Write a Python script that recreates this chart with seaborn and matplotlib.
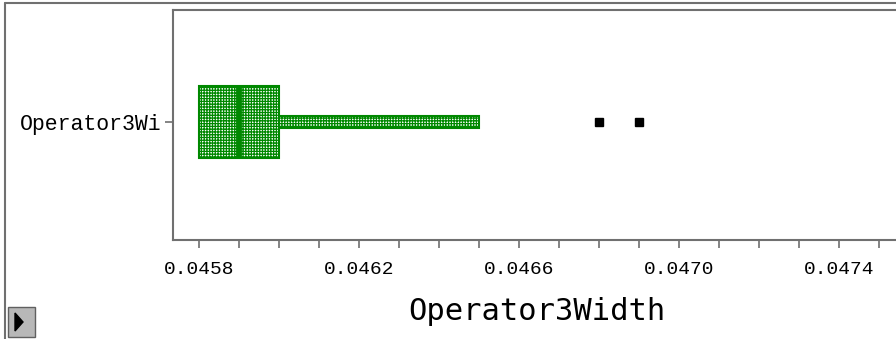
import numpy as np
import pandas as pd
import matplotlib.pyplot as plt
import seaborn as sns
from matplotlib.patches import Rectangle, Polygon
from matplotlib.lines import Line2D
from matplotlib.ticker import MultipleLocator, FormatStrFormatter

# Operator3 寬度量測值
column_name = "Operator3Width"
row_label = "Operator3Wi"
width_values = [0.0458, 0.0458, 0.0458, 0.0458, 0.0458, 0.0458,
                0.0459, 0.0459, 0.0459, 0.0459, 0.0459,
                0.0460, 0.0460, 0.0460, 0.0460, 0.0460,
                0.0462, 0.0465, 0.0468, 0.0469]
x_ticks = [0.0458, 0.0462, 0.0466, 0.0470, 0.0474]

GREEN = "#008800"
FRAME = "#707070"
BOX_WIDTH = 0.313
HATCH = "++++++"


def px(x, y):
    # 像素座標 -> figure 座標 (y 由上往下)
    return x / 896, 1 - y / 339


def box_plot():
    sns.set_style("white")
    plt.rcParams["hatch.linewidth"] = 0.9

    fig = plt.figure(figsize=(8.96, 3.39), dpi=100)
    ax = fig.add_axes([173 / 896, 99 / 339, 1 - 173 / 896, 230 / 339])

    df = pd.DataFrame({column_name: width_values, "row": row_label})
    sns.boxplot(
        data=df, x=column_name, y="row", orient="h", ax=ax,
        width=BOX_WIDTH, whis=2.6, showcaps=False,
        color="white", linecolor=GREEN, linewidth=1.5,
        flierprops={"marker": "s", "markerfacecolor": "black",
                    "markeredgecolor": "black", "markersize": 5.5},
    )

    # 箱子加上點狀網紋，鬚改成細長的網紋矩形
    bp = ax.containers[0]
    for box in bp.boxes:
        box.set_facecolor("white")
        box.set_hatch(HATCH)
    band = 0.052
    for line in bp.whiskers:
        xs = line.get_xdata()
        if abs(xs[1] - xs[0]) > 0:
            ax.add_patch(Rectangle((min(xs), -band / 2), abs(xs[1] - xs[0]), band,
                                   facecolor="white", edgecolor=GREEN,
                                   hatch=HATCH, linewidth=1.5, zorder=1.5))
        line.set_visible(False)

    # 中位數線加粗
    med = np.median(width_values)
    ax.vlines(med, -BOX_WIDTH / 2, BOX_WIDTH / 2, color=GREEN, lw=4.2, zorder=5)

    ax.set_xlim(0.045735, 0.0475425)
    ax.set_ylim(0.513, -0.487)
    ax.set_xticks(x_ticks)
    ax.xaxis.set_minor_locator(MultipleLocator(0.0001))
    ax.xaxis.set_major_formatter(FormatStrFormatter("%.4f"))
    ax.set_yticks([0])
    ax.set_yticklabels([row_label], family="Liberation Mono", fontsize=15.5,
                       color="black")
    ax.set_xlabel("")
    ax.set_ylabel("")
    ax.tick_params(which="both", bottom=True, left=True, direction="out",
                   length=6, width=1.2, color=FRAME)
    ax.tick_params(axis="x", pad=9)
    ax.tick_params(axis="y", pad=2)
    for lab in ax.get_xticklabels():
        lab.set_family("Liberation Mono")
        lab.set_fontsize(14)
        lab.set_color("black")

    ax.spines["right"].set_visible(False)
    for side in ["top", "left", "bottom"]:
        ax.spines[side].set_color(FRAME)
        ax.spines[side].set_linewidth(1.5)

    fig.text(*px(537, 311), "Operator3Width", ha="center", va="center",
             family="DejaVu Sans Mono", fontsize=22, color="black")

    # 外框與左下角的小按鈕
    fig.add_artist(Line2D([5 / 896, 5 / 896], [0, 1 - 3 / 339],
                          transform=fig.transFigure, color=FRAME, lw=1.5))
    fig.add_artist(Line2D([5 / 896, 1], [1 - 3 / 339, 1 - 3 / 339],
                          transform=fig.transFigure, color=FRAME, lw=1.5))
    fig.add_artist(Rectangle(px(8, 337), 27 / 896, 30 / 339, transform=fig.transFigure,
                             facecolor="#b8b8b8", edgecolor="#606060", lw=1))
    fig.add_artist(Polygon([px(15, 313), px(15, 331), px(23, 322)], closed=True,
                           transform=fig.transFigure, facecolor="black", edgecolor="black"))

    fig.savefig("out.png", dpi=100)


def main():
    box_plot()


if __name__ == "__main__":
    main()
